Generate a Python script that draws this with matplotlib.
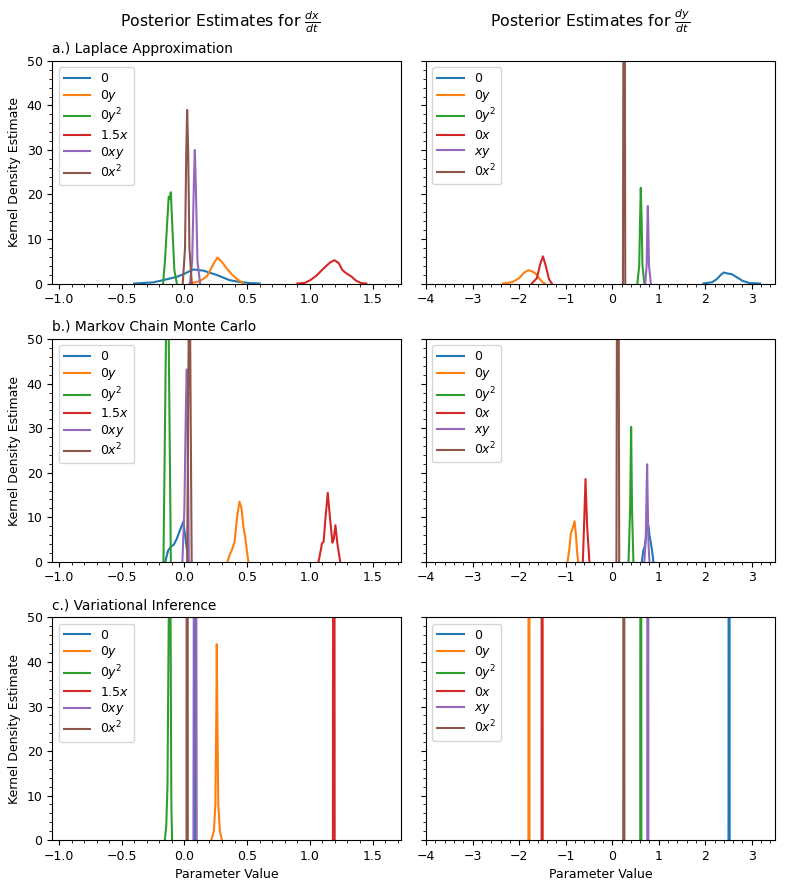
import matplotlib
matplotlib.use("Agg")
import matplotlib.pyplot as plt
from matplotlib.ticker import AutoMinorLocator

# ---------------- data ----------------
LABELS_DX = ["0", "$0y$", "$0y^2$", "$1.5x$", "$0xy$", "$0x^2$"]
LABELS_DY = ["0", "$0y$", "$0y^2$", "$0x$", "$xy$", "$0x^2$"]
ROW_TITLES = ["a.) Laplace Approximation", "b.) Markov Chain Monte Carlo", "c.) Variational Inference"]
COL_TITLES = [r"Posterior Estimates for $\frac{dx}{dt}$", r"Posterior Estimates for $\frac{dy}{dt}$"]

# Laplace approximation, dx/dt
LA_DX_X = [
    [-0.40, -0.25, -0.17, -0.06, 0.0, 0.07, 0.15, 0.26, 0.36, 0.44, 0.52, 0.60],
    [0.04, 0.12, 0.18, 0.23, 0.263, 0.30, 0.34, 0.38, 0.42, 0.47],
    [-0.17, -0.155, -0.145, -0.125, -0.118, -0.108, -0.095, -0.08, -0.06],
    [0.90, 0.96, 1.00, 1.05, 1.11, 1.16, 1.196, 1.23, 1.26, 1.29, 1.33, 1.37, 1.41, 1.45],
    [0.045, 0.062, 0.075, 0.083, 0.091, 0.104, 0.125],
    [-0.013, 0.005, 0.015, 0.022, 0.030, 0.040, 0.059],
]
LA_DX_Y = [
    [0.0, 0.25, 0.75, 1.5, 2.2, 3.15, 2.9, 1.9, 0.75, 0.35, 0.1, 0.0],
    [0.0, 0.5, 1.6, 4.3, 5.85, 4.8, 3.3, 2.0, 1.0, 0.0],
    [0.0, 5.0, 10.0, 19.5, 19.0, 20.5, 12.0, 3.0, 0.0],
    [0.0, 0.15, 0.7, 1.7, 3.4, 4.7, 5.24, 4.6, 3.0, 2.3, 1.6, 0.6, 0.1, 0.0],
    [0.0, 5.0, 22.0, 30.0, 22.0, 5.0, 0.0],
    [0.0, 8.0, 30.0, 39.0, 30.0, 8.0, 0.0],
]
# Laplace approximation, dy/dt
LA_DY_X = [
    [1.96, 2.15, 2.25, 2.33, 2.40, 2.48, 2.57, 2.68, 2.80, 2.95, 3.18],
    [-2.35, -2.15, -2.0, -1.90, -1.80, -1.70, -1.65, -1.58, -1.50, -1.45],
    [0.54, 0.58, 0.60, 0.614, 0.63, 0.65, 0.69],
    [-1.73, -1.62, -1.55, -1.49, -1.43, -1.36, -1.30],
    [0.71, 0.74, 0.755, 0.765, 0.775, 0.79, 0.83],
    [0.23, 0.256, 0.28],
]
LA_DY_Y = [
    [0.0, 0.3, 1.0, 1.9, 2.47, 2.25, 2.1, 1.4, 0.6, 0.1, 0.0],
    [0.0, 0.3, 1.2, 2.4, 3.0, 2.6, 2.25, 1.3, 0.3, 0.0],
    [0.0, 4.0, 15.0, 21.5, 15.0, 4.0, 0.0],
    [0.0, 1.2, 4.3, 6.1, 4.0, 1.0, 0.0],
    [0.0, 4.0, 13.0, 17.4, 13.0, 4.0, 0.0],
    [0.0, 150.0, 0.0],
]
# MCMC, dx/dt
MC_DX_X = [
    [-0.153, -0.13, -0.108, -0.085, -0.06, -0.03, -0.008, 0.01, 0.032],
    [0.343, 0.36, 0.378, 0.40, 0.42, 0.439, 0.455, 0.47, 0.484, 0.50, 0.51],
    [-0.167, -0.135, -0.108],
    [1.069, 1.09, 1.096, 1.11, 1.125, 1.143, 1.16, 1.18, 1.19, 1.204, 1.22, 1.242],
    [-0.016, 0.0, 0.012, 0.019, 0.026, 0.035],
    [0.022, 0.040, 0.058],
]
MC_DX_Y = [
    [0.0, 2.5, 3.4, 3.8, 5.2, 7.5, 9.0, 5.0, 0.0],
    [0.0, 1.5, 2.6, 4.5, 10.0, 13.5, 12.0, 8.0, 5.6, 2.0, 0.0],
    [0.0, 80.0, 0.0],
    [0.0, 3.0, 4.1, 4.5, 10.0, 15.5, 10.0, 4.3, 5.0, 8.2, 4.0, 0.0],
    [0.0, 12.0, 35.0, 43.2, 30.0, 0.0],
    [0.0, 75.0, 0.0],
]
# MCMC, dy/dt
MC_DY_X = [
    [0.636, 0.67, 0.70, 0.73, 0.757, 0.78, 0.80, 0.85, 0.886],
    [-0.96, -0.92, -0.89, -0.85, -0.81, -0.78, -0.75, -0.73],
    [0.35, 0.385, 0.406, 0.425, 0.455],
    [-0.632, -0.60, -0.575, -0.54, -0.49],
    [0.69, 0.72, 0.735, 0.75, 0.765, 0.78, 0.80],
    [0.09, 0.12, 0.15],
]
MC_DY_Y = [
    [0.0, 2.6, 3.5, 6.0, 8.2, 8.0, 6.0, 3.0, 0.0],
    [0.0, 3.0, 6.4, 7.5, 9.1, 6.0, 1.5, 0.0],
    [0.0, 12.0, 30.3, 12.0, 0.0],
    [0.0, 10.0, 18.6, 8.0, 0.0],
    [0.0, 5.0, 13.5, 21.9, 12.0, 4.0, 0.0],
    [0.0, 150.0, 0.0],
]
# Variational inference, dx/dt
VI_DX_X = [
    [0.078, 0.085, 0.092],
    [0.214, 0.235, 0.247, 0.255, 0.258, 0.262, 0.270, 0.283, 0.299],
    [-0.156, -0.145, -0.135, -0.122, -0.117, -0.112, -0.104, -0.098],
    [1.184, 1.191, 1.198],
    [0.072, 0.085, 0.098],
    [0.017, 0.022, 0.027],
]
VI_DX_Y = [
    [0.0, 500.0, 0.0],
    [0.0, 2.0, 8.0, 30.0, 44.0, 30.0, 8.0, 2.0, 0.0],
    [0.0, 3.0, 12.0, 60.0, 120.0, 60.0, 8.0, 0.0],
    [0.0, 300.0, 0.0],
    [0.0, 250.0, 0.0],
    [0.0, 400.0, 0.0],
]
# Variational inference, dy/dt
VI_DY_X = [
    [2.500, 2.512, 2.524],
    [-1.802, -1.790, -1.778],
    [0.602, 0.614, 0.626],
    [-1.519, -1.507, -1.495],
    [0.753, 0.765, 0.777],
    [0.237, 0.249, 0.261],
]
VI_DY_Y = [
    [0.0, 400.0, 0.0],
    [0.0, 400.0, 0.0],
    [0.0, 400.0, 0.0],
    [0.0, 400.0, 0.0],
    [0.0, 400.0, 0.0],
    [0.0, 400.0, 0.0],
]

PANELS = [
    [(LA_DX_X, LA_DX_Y), (LA_DY_X, LA_DY_Y)],
    [(MC_DX_X, MC_DX_Y), (MC_DY_X, MC_DY_Y)],
    [(VI_DX_X, VI_DX_Y), (VI_DY_X, VI_DY_Y)],
]
LABELS = [LABELS_DX, LABELS_DY]
XLIMS = [(-1.053, 1.728), (-4.0, 3.5)]
COLORS = ["#1f77b4", "#ff7f0e", "#2ca02c", "#d62728", "#9467bd", "#8c564b"]

# ---------------- plotting ----------------
plt.rcParams["font.size"] = 9
fig, axes = plt.subplots(3, 2, figsize=(7.89, 8.89), dpi=100, sharey=True)
fig.subplots_adjust(left=0.0663, right=0.9823, top=0.9314, bottom=0.0551,
                    wspace=0.0717, hspace=0.2505)

for r in range(3):
    for c in range(2):
        ax = axes[r, c]
        xs_list, ys_list = PANELS[r][c]
        for xs, ys, lab, col in zip(xs_list, ys_list, LABELS[c], COLORS):
            ax.plot(xs, ys, color=col, label=lab, lw=1.5)
        ax.set_xlim(*XLIMS[c])
        ax.set_ylim(0, 50)
        ax.xaxis.set_minor_locator(AutoMinorLocator())
        ax.yaxis.set_minor_locator(AutoMinorLocator())
        ax.legend(loc="upper left", fontsize=9, labelspacing=0.22, handlelength=2.1)
        if c == 0:
            ax.set_ylabel("Kernel Density Estimate", fontsize=9)
            ax.set_title(ROW_TITLES[r], loc="left", fontsize=9.9)
        if r == 2:
            ax.set_xlabel("Parameter Value", fontsize=9)

fig.text(0.279, 0.9702, COL_TITLES[0], ha="center", va="baseline", fontsize=11.3)
fig.text(0.748, 0.9702, COL_TITLES[1], ha="center", va="baseline", fontsize=11.3)

fig.savefig("out.png", dpi=100)
